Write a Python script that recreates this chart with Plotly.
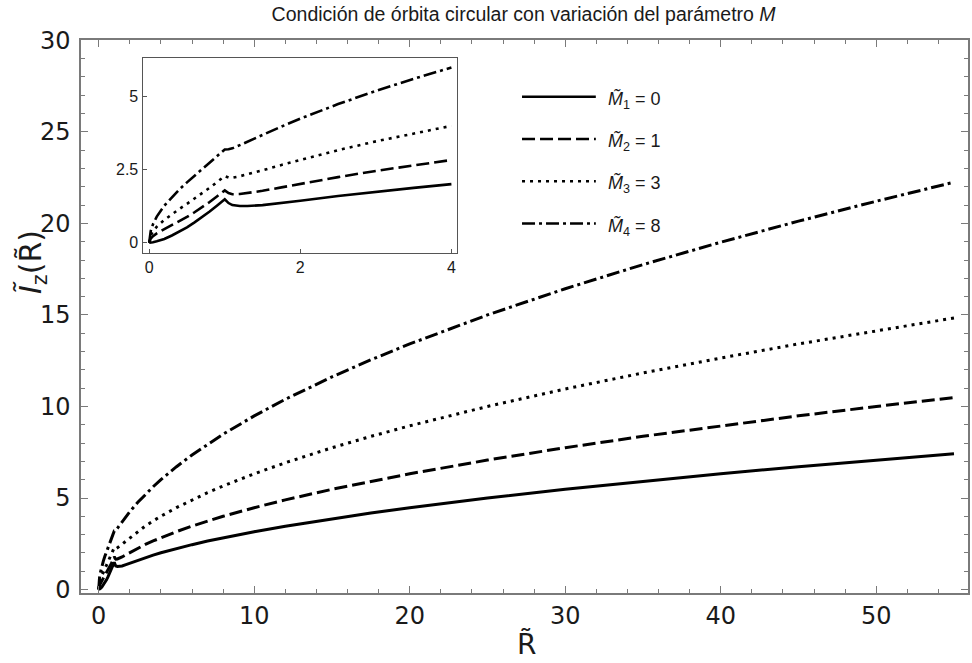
import plotly.graph_objects as go

# Radial coordinate R~ and angular momentum I~_z(R~) for each mass parameter
R = [0, 0.02, 0.05, 0.1, 0.2, 0.3, 0.4, 0.5, 0.6, 0.7, 0.8, 0.9, 1.0,
     1.05, 1.1, 1.2, 1.3, 1.5, 1.75, 2, 2.5, 3, 3.5, 4, 5, 6, 7, 8, 10,
     12, 15, 17.5, 20, 25, 30, 35, 40, 45, 50, 55]
I_M0 = [0, 0.004, 0.017, 0.05, 0.13, 0.25, 0.38, 0.53, 0.70, 0.88, 1.07, 1.28, 1.49,
        1.36, 1.29, 1.26, 1.26, 1.29, 1.36, 1.44, 1.60, 1.75, 1.88, 2.01, 2.24, 2.45, 2.65, 2.83, 3.16,
        3.46, 3.87, 4.18, 4.47, 5.00, 5.48, 5.92, 6.32, 6.71, 7.07, 7.42]
I_M1 = [0, 0.141, 0.224, 0.32, 0.466, 0.602, 0.738, 0.884, 1.044, 1.214, 1.395, 1.593, 1.794,
        1.703, 1.663, 1.670, 1.699, 1.779, 1.897, 2.018, 2.249, 2.462, 2.652, 2.836, 3.165, 3.464, 3.744, 4.001, 4.471,
        4.896, 5.475, 5.914, 6.323, 7.071, 7.748, 8.370, 8.941, 9.488, 9.999, 10.491]
I_M3 = [0, 0.245, 0.388, 0.55, 0.785, 0.981, 1.159, 1.334, 1.513, 1.695, 1.883, 2.083, 2.285,
        2.236, 2.228, 2.278, 2.343, 2.483, 2.665, 2.841, 3.172, 3.473, 3.746, 4.005, 4.474, 4.899, 5.293, 5.658, 6.323,
        6.926, 7.744, 8.365, 8.943, 10.0, 10.956, 11.834, 12.647, 13.417, 14.141, 14.834]
I_M8 = [0, 0.4, 0.633, 0.896, 1.272, 1.569, 1.829, 2.069, 2.300, 2.525, 2.747, 2.973, 3.197,
        3.202, 3.235, 3.345, 3.462, 3.697, 3.981, 4.251, 4.750, 5.202, 5.616, 6.003, 6.710, 7.349, 7.939, 8.486, 9.486,
        10.391, 11.618, 12.549, 13.416, 15.0, 16.433, 17.750, 18.972, 20.125, 21.213, 22.250]

series = [I_M0, I_M1, I_M3, I_M8]
legend_labels = ["<i>M̃</i><sub>1</sub> = 0", "<i>M̃</i><sub>2</sub> = 1",
                 "<i>M̃</i><sub>3</sub> = 3", "<i>M̃</i><sub>4</sub> = 8"]
dashes = ["solid", "13px,5px", "3px,5px", "13px,4px,3px,4px"]

INSET_RMAX = 4

fig = go.Figure()

for vals, dash in zip(series, dashes):
    fig.add_trace(go.Scatter(x=R, y=vals, mode="lines", showlegend=False,
                             line=dict(color="black", width=3, dash=dash),
                             xaxis="x", yaxis="y", hoverinfo="skip"))

for vals, dash in zip(series, dashes):
    rx = [r for r in R if r <= INSET_RMAX]
    ry = vals[:len(rx)]
    fig.add_trace(go.Scatter(x=rx, y=ry, mode="lines", showlegend=False,
                             line=dict(color="black", width=2.6, dash=dash),
                             xaxis="x2", yaxis="y2", hoverinfo="skip"))

axis_grey = "#7a7a7a"
main_font = dict(family="DejaVu Sans", size=24, color="#1a1a1a")
inset_font = dict(family="Liberation Sans", size=16, color="#1a1a1a")

fig.update_layout(
    width=972, height=663,
    margin=dict(l=81, r=2, t=40, b=70),
    paper_bgcolor="white", plot_bgcolor="white",
    title=dict(text="Condición de órbita circular con variación del parámetro <i>M</i>",
               xref="paper", x=0.499, xanchor="center",
               yref="container", y=0.979, yanchor="middle",
               font=dict(family="Liberation Sans", size=19.5, color="#1a1a1a")),
    xaxis=dict(domain=[0, 1], range=[-1.14, 55.9], anchor="y",
               tickmode="linear", tick0=0, dtick=10,
               showgrid=False, zeroline=False,
               showline=True, linecolor=axis_grey, linewidth=1.5, mirror="ticks",
               ticks="inside", ticklen=7, tickwidth=1.2, tickcolor=axis_grey,
               minor=dict(ticks="inside", ticklen=4, tickwidth=1, tickcolor=axis_grey,
                          dtick=2, tick0=0, showgrid=False),
               tickfont=main_font, ticklabelstandoff=0),
    yaxis=dict(domain=[0, 1], range=[-0.19, 30.02], anchor="x",
               tickmode="linear", tick0=0, dtick=5,
               showgrid=False, zeroline=False,
               showline=True, linecolor=axis_grey, linewidth=1.5, mirror="ticks",
               ticks="inside", ticklen=7, tickwidth=1.2, tickcolor=axis_grey,
               minor=dict(ticks="inside", ticklen=4, tickwidth=1, tickcolor=axis_grey,
                          dtick=1, tick0=0, showgrid=False),
               tickfont=main_font, ticklabelstandoff=4),
    xaxis2=dict(domain=[0.0694, 0.424], range=[-0.088, 4.075], anchor="y2",
                tickvals=[0, 2, 4], ticktext=["0", "2", "4"],
                showgrid=False, zeroline=False,
                showline=True, linecolor="#555555", linewidth=1.2, mirror=True,
                ticks="inside", ticklen=4, tickwidth=1, tickcolor="#555555",
                tickfont=inset_font),
    yaxis2=dict(domain=[0.6154, 0.9675], range=[-0.34, 6.33], anchor="x2",
                tickvals=[0, 2.5, 5], ticktext=["0", "2.5", "5"],
                showgrid=False, zeroline=False,
                showline=True, linecolor="#555555", linewidth=1.2, mirror=True,
                ticks="inside", ticklen=4, tickwidth=1, tickcolor="#555555",
                tickfont=inset_font),
)

# Axis titles
fig.add_annotation(text="R̃", xref="paper", yref="paper", x=0.502, y=-0.094,
                   showarrow=False, xanchor="center", yanchor="middle",
                   font=dict(family="DejaVu Sans", size=28, color="#1a1a1a"))
fig.add_annotation(text="<i>Ĩ</i><sub>z</sub>(R̃)", xref="paper", yref="paper",
                   x=-0.054, y=0.5986, textangle=-90, showarrow=False,
                   xanchor="center", yanchor="middle",
                   font=dict(family="DejaVu Sans", size=30, color="#1a1a1a"))

# Legend: line sample plus label for each curve
leg_x0, leg_x1, leg_tx = 0.4972, 0.5804, 0.5917
leg_y0, leg_step = 0.8975, 0.0764
for k, (lab, dash) in enumerate(zip(legend_labels, dashes)):
    yy = leg_y0 - k * leg_step
    fig.add_shape(type="line", xref="paper", yref="paper",
                  x0=leg_x0, x1=leg_x1, y0=yy, y1=yy,
                  line=dict(color="black", width=2.6, dash=dash))
    fig.add_annotation(text=lab, xref="paper", yref="paper", x=leg_tx, y=yy - 0.006,
                       showarrow=False, xanchor="left", yanchor="middle",
                       font=dict(family="Liberation Sans", size=18, color="#1a1a1a"))

fig.write_html("out.html")
